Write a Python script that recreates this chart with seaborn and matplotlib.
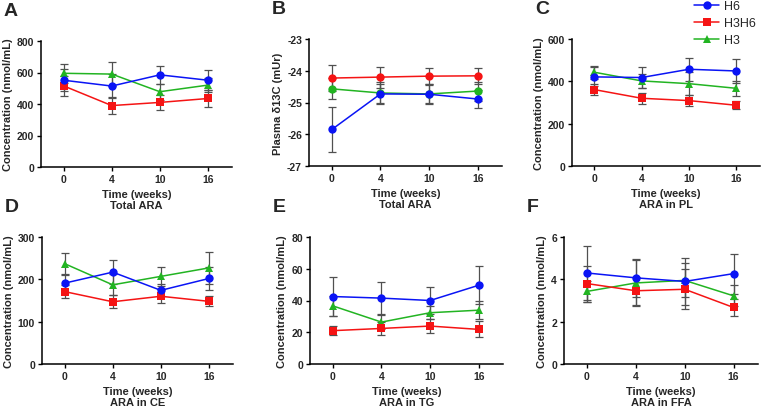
import numpy as np
import pandas as pd
import matplotlib
matplotlib.use("Agg")
import matplotlib.pyplot as plt
import seaborn as sns
from matplotlib.lines import Line2D

sns.set_theme(style="ticks")
plt.rcParams['font.family'] = ['Liberation Sans', 'DejaVu Sans']
plt.rcParams['font.weight'] = 'bold'

weeks = ["0", "4", "10", "16"]
groups = ["H6", "H3H6", "H3"]

# Panel A: Total ARA
a_h6 = [551, 514, 585, 551]
a_h6_err = [70, 75, 55, 65]
a_h3h6 = [515, 390, 410, 435]
a_h3h6_err = [65, 55, 45, 55]
a_h3 = [595, 590, 478, 520]
a_h3_err = [60, 75, 50, 45]

# Panel B: Plasma d13C, Total ARA
b_h6 = [-25.85, -24.73, -24.74, -24.89]
b_h6_err = [0.72, 0.30, 0.32, 0.27]
b_h3h6 = [-24.23, -24.20, -24.17, -24.16]
b_h3h6_err = [0.42, 0.33, 0.27, 0.25]
b_h3 = [-24.57, -24.70, -24.73, -24.64]
b_h3_err = [0.33, 0.35, 0.30, 0.30]

# Panel C: ARA in PL
c_h6 = [421, 418, 457, 449]
c_h6_err = [45, 50, 55, 55]
c_h3h6 = [361, 320, 309, 287]
c_h3h6_err = [25, 27, 25, 20]
c_h3 = [443, 402, 389, 367]
c_h3_err = [30, 35, 55, 35]

# Panel D: ARA in CE
d_h6 = [191, 217, 174, 202]
d_h6_err = [22, 28, 14, 27]
d_h3h6 = [171, 147, 160, 148]
d_h3h6_err = [15, 15, 16, 12]
d_h3 = [237, 187, 207, 227]
d_h3_err = [26, 25, 23, 38]

# Panel E: ARA in TG
e_h6 = [42.5, 41.5, 40.0, 49.6]
e_h6_err = [12.3, 10.0, 8.7, 12.0]
e_h3h6 = [21.0, 22.4, 23.9, 21.8]
e_h3h6_err = [2.7, 4.0, 4.5, 5.0]
e_h3 = [36.6, 26.4, 32.3, 33.9]
e_h3_err = [6.5, 4.5, 4.0, 5.5]

# Panel F: ARA in FFA
f_h6 = [4.30, 4.07, 3.90, 4.27]
f_h6_err = [1.27, 0.90, 1.10, 0.95]
f_h3h6 = [3.80, 3.46, 3.53, 2.67]
f_h3h6_err = [0.85, 0.65, 0.95, 0.40]
f_h3 = [3.43, 3.83, 3.95, 3.22]
f_h3_err = [0.50, 1.10, 0.80, 0.50]

panels = [
    ("A", "Total ARA", "Concentration (nmol/mL)", (0, 800), [0, 200, 400, 600, 800],
     [a_h6, a_h3h6, a_h3], [a_h6_err, a_h3h6_err, a_h3_err], ["o", "s", "^"]),
    ("B", "Total ARA", "Plasma δ13C (mUr)", (-27, -23), [-27, -26, -25, -24, -23],
     [b_h6, b_h3h6, b_h3], [b_h6_err, b_h3h6_err, b_h3_err], ["o", "o", "o"]),
    ("C", "ARA in PL", "Concentration (nmol/mL)", (0, 600), [0, 200, 400, 600],
     [c_h6, c_h3h6, c_h3], [c_h6_err, c_h3h6_err, c_h3_err], ["o", "s", "^"]),
    ("D", "ARA in CE", "Concentration (nmol/mL)", (0, 300), [0, 100, 200, 300],
     [d_h6, d_h3h6, d_h3], [d_h6_err, d_h3h6_err, d_h3_err], ["o", "s", "^"]),
    ("E", "ARA in TG", "Concentration (nmol/mL)", (0, 80), [0, 20, 40, 60, 80],
     [e_h6, e_h3h6, e_h3], [e_h6_err, e_h3h6_err, e_h3_err], ["o", "s", "^"]),
    ("F", "ARA in FFA", "Concentration (nmol/mL)", (0, 6), [0, 2, 4, 6],
     [f_h6, f_h3h6, f_h3], [f_h6_err, f_h3h6_err, f_h3_err], ["o", "s", "^"]),
]

colors = {"H6": "#0a14f5", "H3H6": "#f51414", "H3": "#22b422"}
zorders = {"H6": 5, "H3H6": 4, "H3": 3}

W, H = 766, 410
# axes boxes in pixels: left, top, right, bottom
boxes = [
    (41, 42, 232, 168),
    (309, 40, 502, 167),
    (572, 40, 760, 167),
    (42, 238, 233, 365),
    (310, 238, 503, 365),
    (564, 238, 758, 365),
]

fig = plt.figure(figsize=(W / 100, H / 100), dpi=100)
fig.patch.set_facecolor("white")

for (letter, title, ylabel, ylim, yticks, means, errs, markers), (l, t, r, b) in zip(panels, boxes):
    ax = fig.add_axes([l / W, 1 - b / H, (r - l) / W, (b - t) / H])
    rows = []
    for g, m in zip(groups, means):
        for i, v in enumerate(m):
            rows.append({"x": i, "value": v, "group": g})
    df = pd.DataFrame(rows)
    for g, m, e, mk in zip(groups, means, errs, markers):
        ax.errorbar(np.arange(len(weeks)), m, yerr=e, fmt="none", ecolor="#505050",
                    elinewidth=0.9, capsize=3, capthick=0.9, zorder=1)
    for g, mk in zip(groups, markers):
        sub = df[df["group"] == g]
        sns.lineplot(data=sub, x="x", y="value", ax=ax, color=colors[g], marker=mk,
                     markersize=6, markeredgewidth=0, linewidth=1.1, zorder=zorders[g],
                     legend=False)
    ax.set_xlim(-0.47, 3.5)
    ax.set_ylim(*ylim)
    ax.set_xticks(range(len(weeks)))
    ax.set_xticklabels(weeks)
    ax.set_yticks(yticks)
    ax.set_yticklabels([str(v) for v in yticks])
    ax.tick_params(axis="both", labelsize=7.5, width=1, length=3, color="black", pad=2)
    for lab in ax.get_xticklabels() + ax.get_yticklabels():
        lab.set_fontweight("bold")
    ax.set_xlabel("Time (weeks)\n" + title, fontsize=8, fontweight="bold", labelpad=4,
                  linespacing=1.1)
    ax.set_ylabel(ylabel, fontsize=8, fontweight="bold", labelpad=3)
    sns.despine(ax=ax)
    for s in ["left", "bottom"]:
        ax.spines[s].set_linewidth(1.1)
        ax.spines[s].set_color("black")
    ax.set_facecolor("white")
    fig.text((l - 37) / W, 1 - (t - 30) / H, letter, fontsize=14, fontweight="bold",
             ha="left", va="center")

handles = [Line2D([0], [0], color=colors[g], marker=mk, markersize=6, linewidth=1.1,
                  markeredgewidth=0) for g, mk in zip(groups, ["o", "s", "^"])]
fig.legend(handles, groups, loc="upper left", bbox_to_anchor=(689 / W, 1 - (-4) / H),
           frameon=False, handlelength=2.0, handletextpad=0.4,
           labelspacing=0.4, borderaxespad=0, prop={"weight": "normal", "size": 9})

fig.savefig("out.png", dpi=100, facecolor="white")
